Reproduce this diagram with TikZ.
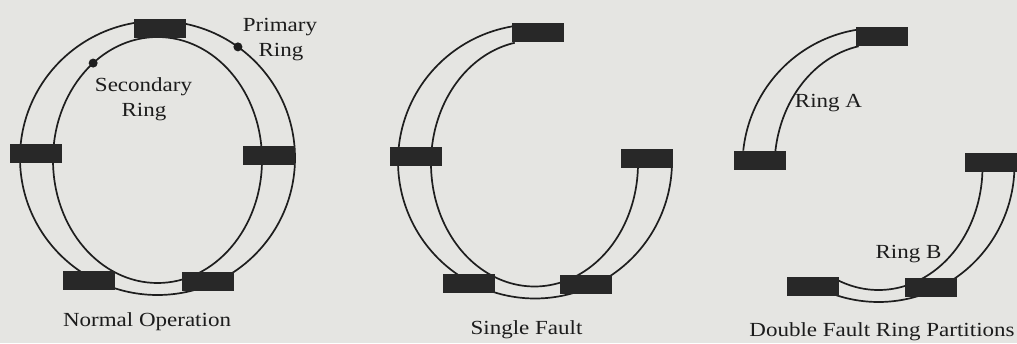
\documentclass[tikz,border=0pt]{standalone}
\usepackage{fontspec}
\setmainfont[FakeStretch=1.15]{Liberation Serif}
\definecolor{paper}{RGB}{229,229,226}
\definecolor{ink}{RGB}{30,30,30}
\definecolor{boxcol}{RGB}{40,40,40}
\definecolor{txt}{RGB}{28,28,28}
\tikzset{
  ring/.style={draw=ink, line width=1.7pt},
  stn/.style={fill=boxcol, draw=none, minimum width=52pt, minimum height=19pt, inner sep=0pt},
  tap/.style={circle, fill=ink, draw=none, minimum size=9pt, inner sep=0pt},
  lbl/.style={anchor=base, text=txt, inner sep=0pt, font=\fontsize{20}{25}\selectfont}
}
\newcommand\ringarc[6]{\draw[ring] plot[domain=#5:#6, samples=90, smooth] ({#1+#3*cos(\x)},{#2+#4*sin(\x)});}
\begin{document}
\begin{tikzpicture}[x=1pt,y=-1pt]
\fill[paper] (0,0) rectangle (1017,343);
\useasboundingbox (0,0) rectangle (1017,343);

% ---------- Normal Operation ----------
\draw[ring] (157.5,158) ellipse [x radius=137.5pt, y radius=137pt];
\draw[ring] (157.5,160) ellipse [x radius=104.5pt, y radius=123pt];
\node[stn] (t1) at (159.5,28.5) {};
\node[stn] (l1) at (36,153) {};
\node[stn] (r1) at (269,155.5) {};
\node[stn] (bl1) at (89,280) {};
\node[stn] (br1) at (207.5,281) {};
\node[tap] (dp) at ({157.5+137.5*cos(305.8)},{158+137*sin(305.8)}) {};
\node[tap] (ds) at ({157.5+104.5*cos(232)},{160+123*sin(232)}) {};
\node[lbl] (prim1) at (280,31) {Primary};
\node[lbl] (prim2) at (281,56.5) {Ring};
\node[lbl] (sec1) at (143.5,91) {Secondary};
\node[lbl] (sec2) at (144,116.5) {Ring};
\node[lbl] (cap1) at (147,326) {Normal Operation};

% ---------- Single Fault ----------
\ringarc{535}{161.5}{137}{137}{2}{266}
\ringarc{534.5}{163.5}{103.5}{123}{0}{259}
\node[stn] (t2) at (537.5,32.5) {};
\node[stn] (l2) at (415.5,156.5) {};
\node[stn] (r2) at (646.5,158.5) {};
\node[stn] (bl2) at (468.5,283.5) {};
\node[stn] (br2) at (585.5,284.5) {};
\node[lbl] (cap2) at (526.5,334) {Single Fault};

% ---------- Double Fault ----------
% Ring A
\ringarc{878.5}{165}{136}{137}{186}{264}
\ringarc{878.5}{167}{104}{123}{187.5}{259}
% Ring B
\ringarc{878.5}{165}{136}{137}{2.9}{108}
\ringarc{878.5}{167}{104}{123}{2.3}{115}
\node[stn] (t3) at (881.5,36.5) {};
\node[stn] (l3) at (759.5,160) {};
\node[stn] (r3) at (990.5,162.5) {};
\node[stn] (bl3) at (812.5,286) {};
\node[stn] (br3) at (930.5,287.5) {};
\node[lbl] (ra) at (828.5,107) {Ring A};
\node[lbl] (rb) at (908.5,258) {Ring B};
\node[lbl] (cap3) at (882,336.5) {Double Fault Ring Partitions};
\end{tikzpicture}
\end{document}
